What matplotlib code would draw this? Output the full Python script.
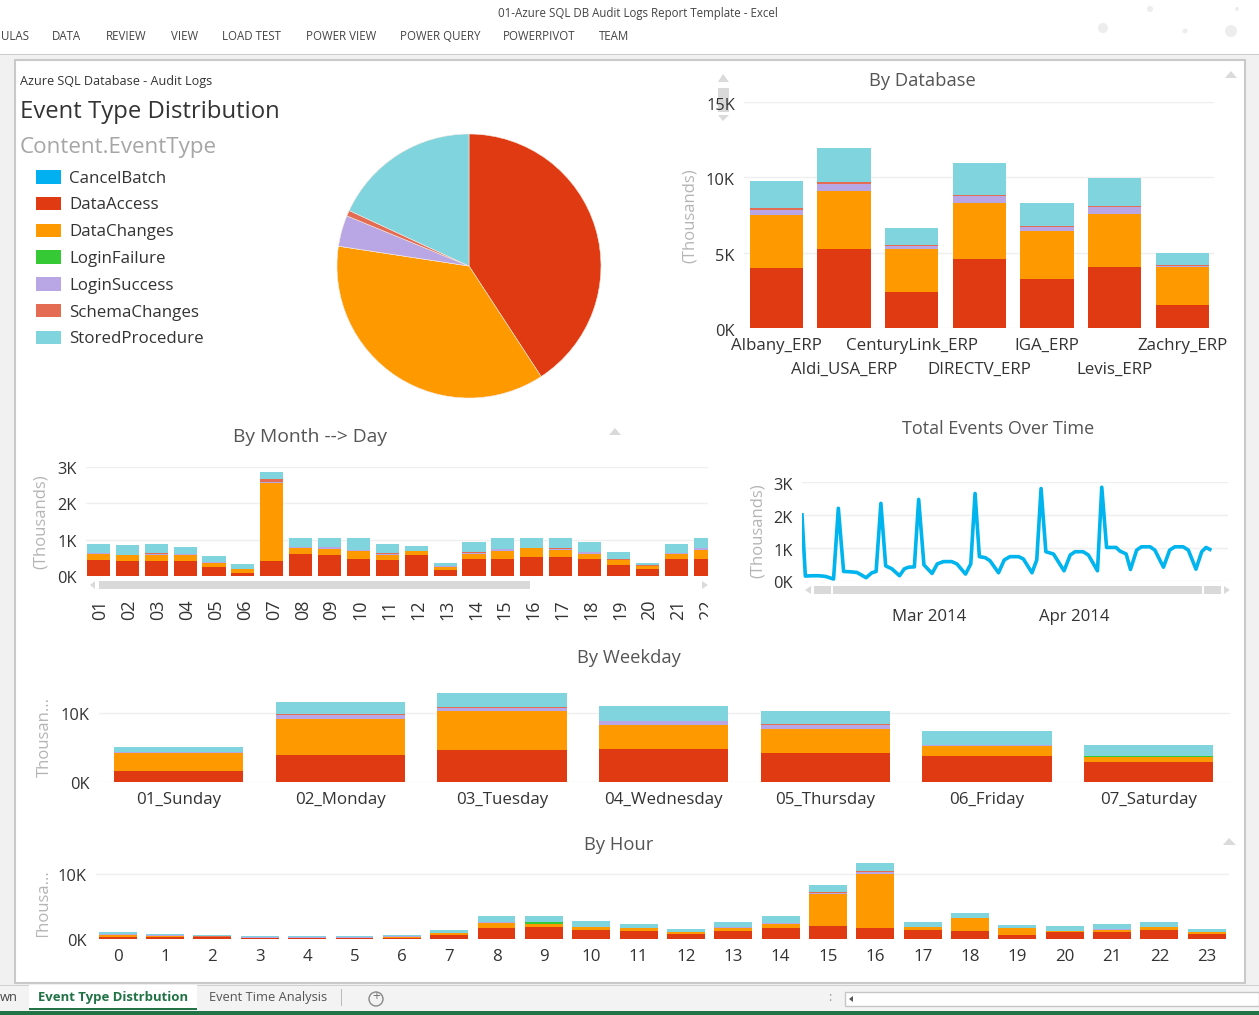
import matplotlib
matplotlib.use("Agg")
import matplotlib.pyplot as plt
from matplotlib.patches import Rectangle, Polygon, Circle, Patch
from matplotlib.transforms import Affine2D, Bbox

W, H = 1259, 1015
plt.rcParams['font.family'] = ['Open Sans', 'DejaVu Sans']

event_types = ["CancelBatch", "DataAccess", "DataChanges", "LoginFailure",
               "LoginSuccess", "SchemaChanges", "StoredProcedure"]
event_colors = ["#00B0F0", "#E03A13", "#FF9900", "#35C935", "#B9A6E4", "#E36C53", "#80D4DE"]
pie_share = [0, 40.8, 36.6, 0, 3.8, 0.7, 18.1]

databases = ["Albany_ERP", "Aldi_USA_ERP", "CenturyLink_ERP", "DIRECTV_ERP", "IGA_ERP", "Levis_ERP", "Zachry_ERP"]
db_access = [3.98, 5.27, 2.37, 4.58, 3.27, 4.05, 1.53]
db_changes = [3.50, 3.80, 2.90, 3.72, 3.19, 3.54, 2.52]
db_failure = [0, 0, 0, 0, 0, 0, 0]
db_login = [.35, .51, .15, .44, .27, .41, .09]
db_schema = [.11, .11, .11, .11, .04, .10, .06]
db_stored = [1.84, 2.28, 1.09, 2.10, 1.53, 1.86, .80]

days = ["01", "02", "03", "04", "05", "06", "07", "08", "09", "10", "11",
        "12", "13", "14", "15", "16", "17", "18", "19", "20", "21", "22"]
day_access = [.435, .40, .425, .40, .25, .08, .425, .61, .58, .47, .435, .58, .165, .47, .47, .51, .535, .47, .305, .195, .47, .47]
day_changes = [.175, .175, .165, .175, .11, .105, 2.14, .15, .17, .215, .14, .095, .085, .13, .215, .26, .185, .14, .13, .085, .14, .24]
day_failure = [0] * 22
day_login = [.015, .01, .025, .02, .015, .005, .03, .03, .04, .035, .035, .015, .015, .045, .045, .005, .03, .045, .015, .005, .015, .05]
day_schema = [.005, .005, .005, .005, .005, .005, .065, .01, .01, .005, .01, .005, .005, .01, .01, .005, .01, .01, .005, .005, .005, .01]
day_stored = [.26, .27, .27, .20, .17, .13, .19, .25, .25, .32, .27, .135, .10, .28, .31, .27, .29, .27, .195, .08, .26, .28]

time_pos = [0, .7, 2.1, 3.5, 4.9, 6.6, 7.6, 8.7, 10.1, 11.5, 13.4, 14.6, 15.5, 16.5, 17.5, 18.8, 20.4,
            21.4, 22.3, 23.5, 24.4, 25.5, 27.2, 28.3, 29.6, 31.3, 32.4, 34.2, 35.3, 36.2, 37.1, 38.3,
            39.3, 41.1, 42.3, 43.5, 45.3, 46.3, 48.1, 49.1, 50, 51, 52.6, 54.8, 56.1, 57.1, 58.8, 59.9,
            61.8, 62.7, 63.7, 65.7, 66.5, 67.8, 68.7, 70, 71, 72.8, 73.8, 75.6, 76.9, 78, 79.7, 80.8,
            82.4, 83.6, 84.5, 85.3]
time_total = [2.01, .15, .16, .16, .14, .06, 2.21, .29, .28, .26, .10, .25, .29, 2.36, .46, .37, .16,
              .37, .42, .43, 2.48, .49, .23, .52, .59, .59, .52, .21, .52, 2.66, .74, .71,
              .62, .25, .64, .74, .74, .67, .25, .64, 2.81, .89, .82, .31, .79, .89, .89, .79,
              .31, 2.85, 1.02, 1.02, .91, .82, .35, .94, 1.04, 1.04, .94, .42, .94, 1.04, 1.04, .94,
              .36, .89, 1.02, .96]
time_months = ["Mar 2014", "Apr 2014"]
time_month_pos = [26.5, 57]

weekdays = ["01_Sunday", "02_Monday", "03_Tuesday", "04_Wednesday", "05_Thursday", "06_Friday", "07_Saturday"]
wd_access = [1.5, 3.91, 4.54, 4.73, 4.15, 3.77, 2.85]
wd_changes = [2.65, 5.17, 5.65, 3.43, 3.48, 1.40, .68]
wd_failure = [0, 0, 0, 0, 0, 0, .14]
wd_login = [.15, .63, .44, .58, .58, .10, 0]
wd_schema = [.05, .09, .24, .05, .19, .04, .10]
wd_stored = [.72, 1.75, 1.98, 2.18, 1.84, 1.98, 1.50]

hours = [str(h) for h in range(24)]
hr_access = [.36, .3, .25, .12, .12, .12, .2, .62, 1.69, 1.79, 1.38, 1.28, .77, 1.28, 1.74, 2.0, 1.74, 1.44, 1.23, .62, 1.03, 1.08, 1.33, .77]
hr_changes = [.31, .2, .05, .04, .04, .04, .16, .30, .81, .57, .41, .36, .26, .46, .62, 4.92, 8.31, .36, 1.95, 1.02, .20, .36, .47, .31]
hr_failure = [0, 0, 0, 0, 0, 0, 0, 0, 0, .24, 0, 0, 0, 0, 0, 0, 0, 0, 0, 0, 0, 0, 0, 0]
hr_login = [.07, .12, .07, .12, .12, .12, .03, .04, .07, 0, .08, .07, .04, .05, .04, .22, .25, .04, .04, .07, .04, .04, .04, .04]
hr_schema = [.03, .05, .03, .03, .03, .03, .01, .01, .03, 0, .03, .03, .01, .01, .01, .14, .16, .01, .01, .03, .01, .01, .01, .01]
hr_stored = [.26, .15, .22, .10, .10, .10, .22, .41, .94, .94, .87, .62, .51, .76, 1.13, 1.03, 1.18, .71, .72, .41, .67, .87, .75, .46]

fig = plt.figure(figsize=(W / 100, H / 100), dpi=100, facecolor="#F1F1F1")
# pixel coordinates with y going down, for everything around the charts
px = Affine2D().scale(1 / W, -1 / H).translate(0, 1) + fig.transFigure


def rect(x0, y0, x1, y1, color, z=-5, **kw):
    fig.add_artist(Rectangle((x0, y0), x1 - x0, y1 - y0, transform=px, facecolor=color,
                             edgecolor=kw.pop("edgecolor", "none"), zorder=z, **kw))


def tri(points, color="#DADADA"):
    fig.add_artist(Polygon(points, closed=True, transform=px, facecolor=color, edgecolor="none", zorder=6))


def dot(x, y, r, color="#EDEDED"):
    fig.add_artist(Circle((x, y), r, transform=px, facecolor=color, edgecolor="none", zorder=-4))


def label(x, y, s, size, color="#444444", ha="left", va="center", **kw):
    return fig.text(x, y, s, transform=px, fontsize=size, color=color, ha=ha, va=va, **kw)


def axes_px(x0, x1, y_bottom, y_top):
    ax = fig.add_axes([x0 / W, 1 - y_bottom / H, (x1 - x0) / W, (y_bottom - y_top) / H])
    ax.patch.set_visible(False)
    for side in ax.spines:
        ax.spines[side].set_visible(False)
    return ax


def stacked(ax, names, series, width, yticks, ticklabels, top, left, right, size=12.2):
    x = list(range(len(names)))
    bottom = [0] * len(names)
    colors = event_colors[1:]
    for vals, col in zip(series, colors):
        ax.bar(x, vals, width, bottom=bottom, color=col, linewidth=0, zorder=3)
        bottom = [b + v for b, v in zip(bottom, vals)]
    ax.set_xlim(left, right)
    ax.set_ylim(0, top)
    ax.set_xticks(x, names)
    style_y(ax, yticks, ticklabels)
    ax.tick_params(axis="x", length=0, labelsize=size, labelcolor="#333333")


def style_y(ax, yticks, ticklabels, drop=1):
    ax.set_yticks(yticks, ticklabels)
    ax.tick_params(axis="y", length=0, pad=6.5, labelsize=11.8, labelcolor="#333333")
    ax.grid(axis="y", color="#EFEFEF", linewidth=1)
    ax.set_axisbelow(True)
    # the labels sit a little under their gridlines in the original
    for tick_text in ax.get_yticklabels():
        tick_text.set_transform(tick_text.get_transform() + Affine2D().translate(0, -drop))


# window chrome
rect(0, 0, W, 54, "white")
rect(0, 54, W, 55, "#C8CCCC")
rect(15, 60, 1245, 983, "white", edgecolor="#C9C9C9", linewidth=1.5)
rect(0, 985, W, 1011, "#F3F3F3")
rect(0, 985, W, 986, "#D0D0D0")
rect(29, 985, 197, 1010, "white")
rect(29, 1008, 197, 1010, "#217346")
rect(0, 1011, W, H, "#217346")
rect(845, 992, W, 1006, "white", edgecolor="#C6C6C6", linewidth=1)
rect(341, 989, 342, 1006, "#BBBBBB")
# faint ribbon artwork, top right
dot(1150, 9, 3)
dot(1185, 31, 2.5)
dot(1237, 9, 2)
dot(1231, 31, 6)
dot(1103, 28, 5)

label(638, 13, "01-Azure SQL DB Audit Logs Report Template - Excel", 8.3, "#444444", ha="center")
ribbon_tabs = ["ULAS", "DATA", "REVIEW", "VIEW", "LOAD TEST", "POWER VIEW", "POWER QUERY", "POWERPIVOT", "TEAM"]
ribbon_x = [1, 52, 106, 171, 222, 306, 400, 503, 599]
for tab_x, tab in zip(ribbon_x, ribbon_tabs):
    label(tab_x, 37, tab, 8.3, "#444444")

label(0, 998, "wn", 9.3, "#444444")
label(38, 998, "Event Type Distrbution", 9.45, "#217346", fontweight="bold")
label(209, 998, "Event Time Analysis", 9.3, "#555555")
label(376, 998, "+", 10, "#777777", ha="center")
fig.add_artist(Circle((376, 999), 7, transform=px, facecolor="none", edgecolor="#888888", linewidth=1, zorder=6))
label(830, 998, ":", 9, "#999999", ha="center")
tri([(853, 996), (849, 999), (853, 1002)], "#555555")

# heading and legend
label(20, 81, "Azure SQL Database - Audit Logs", 9.1, "#333333")
label(20, 112, "Event Type Distribution", 17.2, "#333333")
label(20, 148, "Content.EventType", 16.1, "#A6A6A6")
handles = [Patch(facecolor=c, edgecolor="none") for c in event_colors]
fig.legend(handles, event_types, loc="upper left", bbox_to_anchor=(36 / W, 1 - 170 / H), frameon=False,
           fontsize=12.2, labelcolor="#333333", handlelength=1.48, handleheight=0.85,
           handletextpad=0.48, labelspacing=0.6, borderpad=0, borderaxespad=0)

# pie
ax_pie = axes_px(337, 601, 398, 134)
ax_pie.pie(pie_share, colors=event_colors, startangle=90, counterclock=False, radius=1,
           wedgeprops={"edgecolor": "#F4E9E0", "linewidth": 0.4})
ax_pie.set_xlim(-1, 1)
ax_pie.set_ylim(-1, 1)

# by database
ax_db = axes_px(744, 1214, 328, 102)
stacked(ax_db, databases, [db_access, db_changes, db_failure, db_login, db_schema, db_stored], 0.79,
        [0, 5, 10, 15], ["0K", "5K", "10K", "15K"], 15, -0.48, 6.47)
for tick_text in ax_db.get_yticklabels():
    tick_text.set_transform(tick_text.get_transform() + Affine2D().translate(0, -1))
for i, tick in enumerate(ax_db.xaxis.get_major_ticks()):
    tick.set_pad(7 if i % 2 == 0 else 24.5)
label(922, 81, "By Database", 13.2, "#555555", ha="center")
label(690, 216, "(Thousands)", 12, "#B5B5B5", ha="center", rotation=90)

# by month --> day
ax_day = axes_px(86, 708, 576, 467)
stacked(ax_day, days, [day_access, day_changes, day_failure, day_login, day_schema, day_stored], 0.8,
        [0, 1, 2, 3], ["0K", "1K", "2K", "3K"], 3, -0.43, 21.1)
ax_day.tick_params(axis="x", pad=17, labelsize=13, labelrotation=90)
clip_right = Bbox([[0, 0], [708, H]])
for tick_text in ax_day.get_xticklabels():
    tick_text.set_transform(tick_text.get_transform() + Affine2D().translate(2, 0))
    tick_text.set_clip_box(clip_right)
    tick_text.set_clip_on(True)
label(310, 437, "By Month --> Day", 13.9, "#555555", ha="center")
label(41, 522, "(Thousands)", 12, "#B5B5B5", ha="center", rotation=90)
rect(99, 581, 530, 589, "#D9D9D9", z=6)
tri([(95, 581), (90, 585), (95, 589)])
tri([(702, 581), (708, 585), (702, 589)])
tri([(609, 435), (615, 428), (621, 435)])

# total events over time
ax_time = axes_px(802, 1228, 581, 482.3)
ax_time.plot(time_pos, time_total, color="#00B4EE", linewidth=2.6, solid_joinstyle="round", zorder=3)
ax_time.set_xlim(0, 89.1)
ax_time.set_ylim(0, 3)
ax_time.set_xticks(time_month_pos, time_months)
style_y(ax_time, [0, 1, 2, 3], ["0K", "1K", "2K", "3K"], drop=1.5)
ax_time.tick_params(axis="x", length=0, pad=20, labelsize=12.1, labelcolor="#333333")
label(998, 429, "Total Events Over Time", 13, "#555555", ha="center")
label(758, 531, "(Thousands)", 12, "#B5B5B5", ha="center", rotation=90)
rect(814, 586, 831, 594, "#D9D9D9", z=6)
rect(833, 586, 1202, 594, "#D9D9D9", z=6)
rect(1204, 586, 1221, 594, "#D9D9D9", z=6)
tri([(811, 586), (805, 590), (811, 594)])
tri([(1224, 586), (1230, 590), (1224, 594)])

# by weekday
ax_wd = axes_px(98.5, 1229.5, 781.7, 688)
stacked(ax_wd, weekdays, [wd_access, wd_changes, wd_failure, wd_login, wd_schema, wd_stored], 0.8,
        [0, 10], ["0K", "10K"], 13.58, -0.495, 6.501)
ax_wd.tick_params(axis="x", pad=7.5)
label(629, 658, "By Weekday", 13.2, "#555555", ha="center")
label(45, 737, "Thousan...", 12, "#B5B5B5", ha="center", rotation=90)

# by hour
ax_hr = axes_px(96, 1229, 939, 861)
stacked(ax_hr, hours, [hr_access, hr_changes, hr_failure, hr_login, hr_schema, hr_stored], 0.8,
        [0, 10], ["0K", "10K"], 12, -0.459, 23.47)
ax_hr.tick_params(axis="x", pad=7.5)
label(619, 845, "By Hour", 13.2, "#555555", ha="center")
hour_ylabel = label(45, 905, "Thousa...", 12, "#B5B5B5", ha="center", rotation=90)
hour_ylabel.set_clip_box(Bbox([[0, H - 937], [W, H - 870]]))
hour_ylabel.set_clip_on(True)

# database panel scroll controls and the small collapse arrows
rect(718, 88, 729, 112, "#D9D9D9", z=-1)
tri([(718, 82), (723, 74), (729, 82)])
tri([(718, 115), (723, 121), (729, 115)])
tri([(1225, 78), (1231, 71), (1237, 78)])
tri([(1223, 845), (1229, 838), (1236, 845)])

fig.savefig("out.png", dpi=100, facecolor=fig.get_facecolor())
